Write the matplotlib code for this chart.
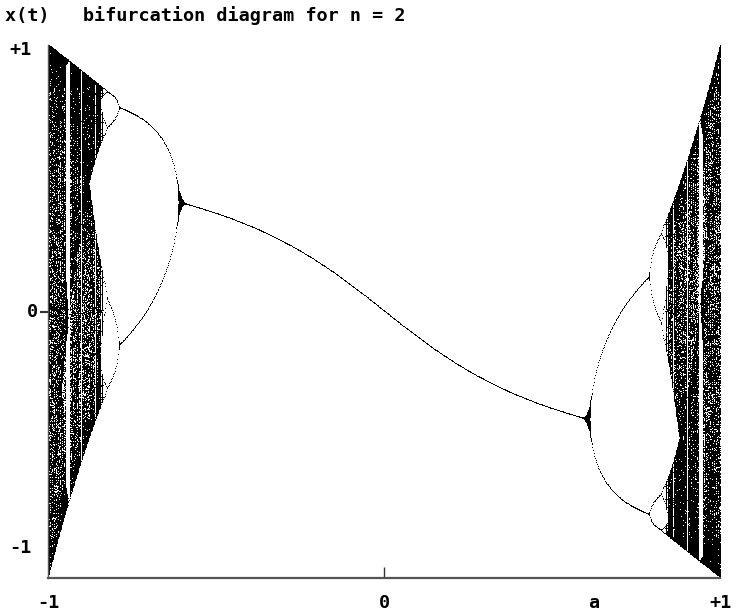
import numpy as np
import matplotlib
matplotlib.use("Agg")
import matplotlib.pyplot as plt

# Map definition: x(t+1) = a * T_n(x(t)), with T_2(x) = 2x^2 - 1
n = 2
a_min, a_max = -1.0, 1.0
n_columns = 1000
n_transient = 80
n_plot = 800
x0 = 0.1

title_text = "x(t)   bifurcation diagram for n = 2"
x_tick_labels = ["-1", "0", "a", "+1"]
x_tick_pos = [-1.0, 0.0, 0.625, 1.0]
y_tick_labels = ["+1", "0", "-1"]

a_values = np.linspace(a_min, a_max, n_columns)

def cheb(x, n):
    return np.cos(n * np.arccos(np.clip(x, -1, 1)))

x = np.full_like(a_values, x0)
for _ in range(n_transient):
    x = a_values * cheb(x, n)
A, X = [], []
for _ in range(n_plot):
    x = a_values * cheb(x, n)
    A.append(a_values.copy())
    X.append(x.copy())
A = np.concatenate(A)
X = np.concatenate(X)

fig = plt.figure(figsize=(7.37, 6.16), dpi=100)
ax = fig.add_axes([48/737, 1-578/616, (720-48)/737, (578-45)/616])
ax.plot(A, X, ',', color='black')
ax.set_xlim(-1, 1)
ax.set_ylim(-1, 1)
for s in ['top', 'right']:
    ax.spines[s].set_visible(False)
ax.spines['bottom'].set_color('#555555')
ax.spines['bottom'].set_linewidth(1.6)
ax.spines['left'].set_color('#555555')
ax.spines['left'].set_linewidth(1.0)
ax.set_xticks([0])
ax.set_xticklabels([])
ax.tick_params(axis='x', direction='in', length=8, width=1, color='#333333')
ax.set_yticks([0])
ax.set_yticklabels([])
ax.tick_params(axis='y', direction='out', length=6, width=1.5, color='#333333')

fkw = dict(family='DejaVu Sans Mono', weight='bold', fontsize=13.3, color='black')
fig.text(5/737, 1-16/616, title_text, ha='left', va='center', **fkw)
# y labels
fig.text(20/737, 1-50/616, y_tick_labels[0], ha='center', va='center', **fkw)
fig.text(32/737, 1-312/616, y_tick_labels[1], ha='center', va='center', **fkw)
fig.text(20/737, 1-548/616, y_tick_labels[2], ha='center', va='center', **fkw)
# x labels
for lab, pos in zip(x_tick_labels, x_tick_pos):
    t = ax.text(pos, -1 - 25/266.5, lab, ha='center', va='center', **fkw)
    t.set_clip_on(False)

fig.savefig('out.png', dpi=100, facecolor='white')
